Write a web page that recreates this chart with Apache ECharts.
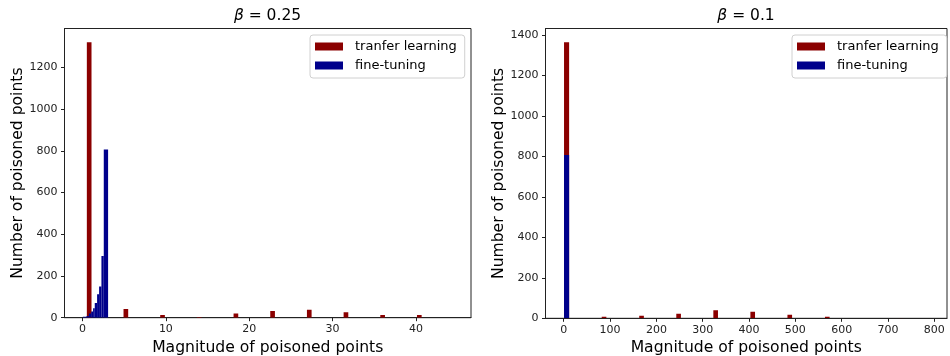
<!DOCTYPE html>
<html><head><meta charset="utf-8">
<script src="https://cdn.jsdelivr.net/npm/echarts@6/dist/echarts.min.js"></script>
<style>html,body{margin:0;padding:0;background:#fff}#c{width:950px;height:356px}</style>
</head><body><div id="c"></div>
<script>
// ---- data ----
const seriesNames = ['tranfer learning', 'fine-tuning'];
const titles = ['0.25', '0.1'];

// left panel (beta = 0.25): histogram bins [lo, hi] and counts
const leftRedLo    = [0.52, 4.92, 9.32, 13.72, 18.12, 22.52, 26.92, 31.32, 35.72, 40.12];
const leftRedHi    = [1.08, 5.48, 9.88, 14.28, 18.68, 23.08, 27.48, 31.88, 36.28, 40.68];
const leftRedCount = [1320, 42, 13, 3, 20, 32, 38, 26, 13, 13];
const leftBlueLo    = [0.04, 0.48, 0.76, 1.04, 1.27, 1.47, 1.75, 1.99, 2.27, 2.55];
const leftBlueHi    = [0.48, 0.76, 1.04, 1.27, 1.47, 1.75, 1.99, 2.27, 2.55, 3.07];
const leftBlueCount = [4, 8, 20, 30, 45, 70, 112, 150, 296, 806];

// right panel (beta = 0.1)
const rightRedLo    = [0.6, 82, 163, 243, 323, 403, 483, 564, 723];
const rightRedHi    = [11.6, 92, 173, 253, 333, 413, 493, 574, 733];
const rightRedCount = [1365, 8, 13, 23, 40, 33, 18, 8, 2];
const rightBlueLo    = [0.6];
const rightBlueHi    = [11.6];
const rightBlueCount = [807];

// tick labels
const leftXTicks  = [0, 10, 20, 30, 40];
const leftYTicks  = [0, 200, 400, 600, 800, 1000, 1200];
const rightXTicks = [0, 100, 200, 300, 400, 500, 600, 700, 800];
const rightYTicks = [0, 200, 400, 600, 800, 1000, 1200, 1400];

// ---- chart ----
const FONT = 'DejaVu Sans';
const RED = '#8b0000', BLUE = '#00008b';
const zip = (lo, hi, c) => lo.map((v, i) => [v, hi[i], c[i]]);

function renderBar(params, api) {
  const lo = api.value(0), hi = api.value(1), v = api.value(2);
  const p0 = api.coord([lo, v]);
  const p1 = api.coord([hi, 0]);
  return {
    type: 'rect',
    shape: { x: p0[0], y: p0[1], width: p1[0] - p0[0], height: p1[1] - p0[1] },
    style: api.style()
  };
}

function xAxis(gi, min, max, ticks) {
  return {
    type: 'value', gridIndex: gi, min: min, max: max,
    name: 'Magnitude of poisoned points', nameLocation: 'middle', nameGap: 21,
    nameTextStyle: { fontFamily: FONT, fontSize: 15.6, color: '#000' },
    axisLine: { show: true, onZero: false, lineStyle: { color: '#222', width: 1 } },
    axisTick: { show: true, inside: false, length: 3.5, customValues: ticks, lineStyle: { color: '#222' } },
    axisLabel: { customValues: ticks, margin: 6, fontFamily: FONT, fontSize: 11, color: '#222', formatter: v => String(v) },
    splitLine: { show: false }
  };
}
function yAxis(gi, max, ticks, gap) {
  return {
    type: 'value', gridIndex: gi, min: 0, max: max,
    name: 'Number of poisoned points', nameLocation: 'middle', nameGap: gap, nameRotate: 90,
    nameTextStyle: { fontFamily: FONT, fontSize: 15.6, color: '#000' },
    axisLine: { show: true, onZero: false, lineStyle: { color: '#222', width: 1 } },
    axisTick: { show: true, inside: false, length: 3.5, customValues: ticks, lineStyle: { color: '#222' } },
    axisLabel: { customValues: ticks, margin: 7, fontFamily: FONT, fontSize: 11, color: '#222', formatter: v => String(v) },
    splitLine: { show: false }
  };
}
function legend(left) {
  return {
    left: left, top: 35, orient: 'vertical',
    itemWidth: 28, itemHeight: 8, itemGap: 4,
    backgroundColor: '#fff',
    borderColor: '#d0d0d0', borderWidth: 1, borderRadius: 3,
    padding: [4, 8, 5, 5],
    textStyle: { fontFamily: FONT, fontSize: 13, color: '#000', lineHeight: 15, padding: [0, 0, 0, 7] },
    data: seriesNames.map(n => ({ name: n, icon: 'rect' }))
  };
}

const chart = echarts.init(document.getElementById('c'), null, { renderer: 'canvas' });
chart.setOption({
  animation: false,
  backgroundColor: '#fff',
  graphic: [
    { type: 'text', x: 267.5, y: 16, style: { text: '{i|β} = ' + titles[0], textAlign: 'center', textVerticalAlign: 'middle',
      fontFamily: FONT, fontSize: 15.5, fill: '#000', rich: { i: { fontStyle: 'italic', fontFamily: FONT, fontSize: 15.5 } } } },
    { type: 'text', x: 746, y: 16, style: { text: '{i|β} = ' + titles[1], textAlign: 'center', textVerticalAlign: 'middle',
      fontFamily: FONT, fontSize: 15.5, fill: '#000', rich: { i: { fontStyle: 'italic', fontFamily: FONT, fontSize: 15.5 } } } }
  ],
  grid: [
    { left: 64.5, width: 406.5, top: 28.5, height: 289.2, show: true, borderColor: '#222', borderWidth: 1,
      backgroundColor: 'transparent', containLabel: false, outerBoundsMode: 'none' },
    { left: 545.5, width: 401.5, top: 28.5, height: 289.8, show: true, borderColor: '#222', borderWidth: 1,
      backgroundColor: 'transparent', containLabel: false, outerBoundsMode: 'none' }
  ],
  xAxis: [ xAxis(0, -2.16, 46.6, leftXTicks), xAxis(1, -39.4, 827.5, rightXTicks) ],
  yAxis: [ yAxis(0, 1386, leftYTicks, 37), yAxis(1, 1433, rightYTicks, 38) ],
  legend: [ legend(310), legend(792) ],
  series: [
    { type: 'custom', name: seriesNames[0], xAxisIndex: 0, yAxisIndex: 0, renderItem: renderBar, clip: true,
      itemStyle: { color: RED }, encode: { x: [0, 1], y: 2 }, data: zip(leftRedLo, leftRedHi, leftRedCount) },
    { type: 'custom', name: seriesNames[1], xAxisIndex: 0, yAxisIndex: 0, renderItem: renderBar, clip: true,
      itemStyle: { color: BLUE }, encode: { x: [0, 1], y: 2 }, data: zip(leftBlueLo, leftBlueHi, leftBlueCount) },
    { type: 'custom', name: seriesNames[0], xAxisIndex: 1, yAxisIndex: 1, renderItem: renderBar, clip: true,
      itemStyle: { color: RED }, encode: { x: [0, 1], y: 2 }, data: zip(rightRedLo, rightRedHi, rightRedCount) },
    { type: 'custom', name: seriesNames[1], xAxisIndex: 1, yAxisIndex: 1, renderItem: renderBar, clip: true,
      itemStyle: { color: BLUE }, encode: { x: [0, 1], y: 2 }, data: zip(rightBlueLo, rightBlueHi, rightBlueCount) }
  ]
});
</script>
</body></html>
